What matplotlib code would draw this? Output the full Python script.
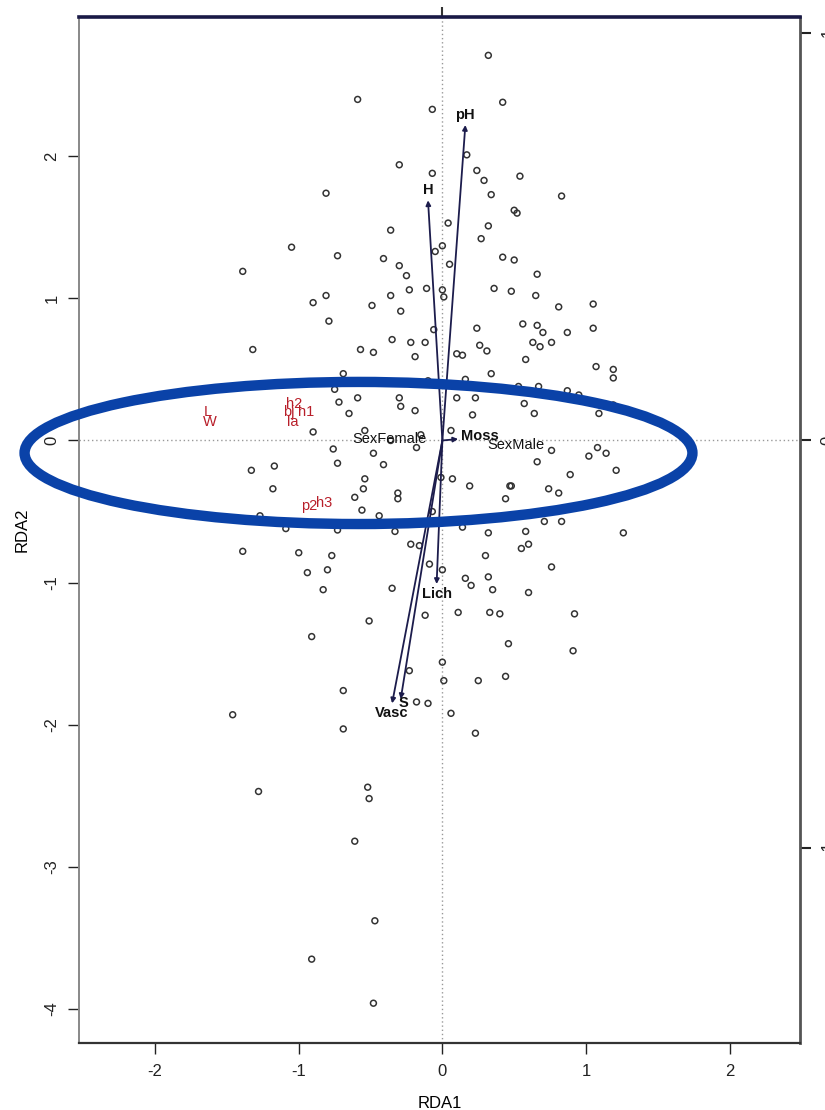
import matplotlib
matplotlib.use("Agg")
import matplotlib.pyplot as plt
from matplotlib.patches import Ellipse
from matplotlib import font_manager

# ---------------- data ----------------
site_x = [0.32, -0.59, -0.07, 0.42, 0.17, -0.30, -0.07, 0.24, 0.29, 0.54,
          -0.81, 0.34, 0.83, 0.50, 0.52, 0.04, 0.32, -0.36, 0.27, -1.05,
          0.00, -0.05, -0.73, -0.41, 0.42, 0.50, 0.05, -1.39, -0.30, -0.25,
          0.66, -0.11, 0.00, 0.01, -0.23, -0.36, -0.81, -0.90, 0.36, 0.48,
          0.65, 0.81, 1.05, -0.49, -0.29, -0.79, -0.06, 0.24, 0.56, 0.66,
          0.70, 0.87, 1.05, -0.35, -0.22, -0.12, -1.32, -0.57, -0.48, 0.26,
          0.31, 0.63, 0.68, 0.76, -0.19, 0.10, 0.14, 0.58, 1.07, 1.19,
          1.19, -0.69, 0.34, 0.16, -0.10, 0.67, 0.53, 0.87, 0.95, -0.30,
          0.10, 0.23, -0.59, -0.75,
          -0.72, -0.29, -0.65, -0.19, 0.21, 0.57, 0.64, 1.19, 1.09, -0.90,
          -0.54, -0.15, -0.36, 0.06, -0.18, -0.76, -0.48, 0.76, 1.08, 1.14,
          1.02, 0.66, -1.33, -1.17, -0.73, -0.41, 1.21, 0.89, -0.54, -0.01,
          0.07, 0.19, 0.47, 0.48, -1.18, -0.55, -0.31, -0.31, -0.61, 0.44,
          0.74, 0.81, -0.56, -0.44, -0.07, -1.27, -1.09, -0.73, -0.33, 0.14,
          0.32, 0.58, 0.71, 0.83, 1.26, -1.39, -1.00, -0.77, -0.22, -0.16,
          0.60, 0.55, 0.30, -0.94, -0.80, -0.09, 0.00, 0.76, -0.83, -0.35,
          0.16, 0.32, 0.20, 0.35, 0.60, -0.51, -0.12, 0.11, 0.33, 0.40,
          0.92, -0.91, 0.46, 0.91, 0.00, -0.23, 0.01, 0.25, 0.44, -0.69,
          -0.18, -0.10, -1.46, 0.06, -0.69, 0.23,
          -1.28, -0.52, -0.51, -0.61, -0.47, -0.91, -0.48]
site_y = [2.71, 2.40, 2.33, 2.38, 2.01, 1.94, 1.88, 1.90, 1.83, 1.86,
          1.74, 1.73, 1.72, 1.62, 1.60, 1.53, 1.51, 1.48, 1.42, 1.36,
          1.37, 1.33, 1.30, 1.28, 1.29, 1.27, 1.24, 1.19, 1.23, 1.16,
          1.17, 1.07, 1.06, 1.01, 1.06, 1.02, 1.02, 0.97, 1.07, 1.05,
          1.02, 0.94, 0.96, 0.95, 0.91, 0.84, 0.78, 0.79, 0.82, 0.81,
          0.76, 0.76, 0.79, 0.71, 0.69, 0.69, 0.64, 0.64, 0.62, 0.67,
          0.63, 0.69, 0.66, 0.69, 0.59, 0.61, 0.60, 0.57, 0.52, 0.50,
          0.44, 0.47, 0.47, 0.43, 0.42, 0.38, 0.38, 0.35, 0.32, 0.30,
          0.30, 0.30, 0.30, 0.36,
          0.27, 0.24, 0.19, 0.21, 0.18, 0.26, 0.19, 0.25, 0.19, 0.06,
          0.07, 0.04, 0.00, 0.07, -0.05, -0.06, -0.09, -0.07, -0.05, -0.09,
          -0.11, -0.15, -0.21, -0.18, -0.16, -0.17, -0.21, -0.24, -0.27, -0.26,
          -0.27, -0.32, -0.32, -0.32, -0.34, -0.34, -0.37, -0.41, -0.40, -0.41,
          -0.34, -0.37, -0.49, -0.53, -0.50, -0.53, -0.62, -0.63, -0.64, -0.61,
          -0.65, -0.64, -0.57, -0.57, -0.65, -0.78, -0.79, -0.81, -0.73, -0.74,
          -0.73, -0.76, -0.81, -0.93, -0.91, -0.87, -0.91, -0.89, -1.05, -1.04,
          -0.97, -0.96, -1.02, -1.05, -1.07, -1.27, -1.23, -1.21, -1.21, -1.22,
          -1.22, -1.38, -1.43, -1.48, -1.56, -1.62, -1.69, -1.69, -1.66, -1.76,
          -1.84, -1.85, -1.93, -1.92, -2.03, -2.06,
          -2.47, -2.44, -2.52, -2.82, -3.38, -3.65, -3.96]

arrow_names = ["pH", "H", "Moss", "Lich", "Vasc", "S"]
arrow_x = [0.16, -0.10, 0.11, -0.04, -0.35, -0.29]
arrow_y = [2.22, 1.69, 0.01, -1.01, -1.85, -1.82]
arrow_lab_x = [0.16, -0.10, 0.26, -0.04, -0.35, -0.27]
arrow_lab_y = [2.29, 1.76, 0.03, -1.08, -1.92, -1.85]

factor_names = ["SexFemale", "SexMale"]
factor_x = [-0.37, 0.51]
factor_y = [0.01, -0.03]

red_names = ["L", "W", "h2", "bj", "h1", "la", "p2", "h3"]
red_x = [-1.63, -1.62, -1.03, -1.07, -0.95, -1.04, -0.93, -0.82]
red_y = [0.20, 0.13, 0.26, 0.20, 0.20, 0.13, -0.46, -0.44]

x_ticks = [-2, -1, 0, 1, 2]
y_ticks = [-4, -3, -2, -1, 0, 1, 2]
right_ticks = [-1, 0, 1]
right_scale = 2.87  # RDA2 units per right-axis unit

# ---------------- fonts ----------------
avail = {f.name for f in font_manager.fontManager.ttflist}
fam = [f for f in ["Liberation Sans Narrow", "Liberation Sans", "DejaVu Sans"] if f in avail]
plt.rcParams['font.family'] = fam

# ---------------- figure ----------------
fig = plt.figure(figsize=(8.25, 11.10), dpi=100)
ax = fig.add_axes([79/825, 1 - 1043/1110, (800-79)/825, (1043-17)/1110])
ax.set_xlim(-2.53, 2.49)
ax.set_ylim(-4.24, 2.98)

# reference lines
ax.axhline(0, color="#999999", lw=1.0, ls=(0, (1, 2)), zorder=1)
ax.axvline(0, color="#999999", lw=1.0, ls=(0, (1, 2)), zorder=1)

# site points
ax.scatter(site_x, site_y, s=18, facecolors="none", edgecolors="#333333",
           linewidths=1.1, zorder=2)

# biplot arrows
arrow_col = "#1c1c4c"
for name, x, y, lx, ly in zip(arrow_names, arrow_x, arrow_y, arrow_lab_x, arrow_lab_y):
    ax.annotate("", xy=(x, y), xytext=(0, 0),
                arrowprops=dict(arrowstyle="-|>", color=arrow_col, lw=1.3,
                                mutation_scale=7, shrinkA=0, shrinkB=0), zorder=3)
    ax.text(lx, ly, name, ha="center", va="center", fontsize=10.5,
            fontweight="bold", color="#111111", zorder=4)

# factor centroids
for name, x, y in zip(factor_names, factor_x, factor_y):
    ax.text(x, y, name, ha="center", va="center", fontsize=10.5,
            color="#111111", zorder=4)

# red labels
for name, x, y in zip(red_names, red_x, red_y):
    ax.text(x, y, name, ha="center", va="center", fontsize=10.5,
            color="#b81f2a", zorder=4)

# highlight ellipse (annotation)
ell = Ellipse((-0.584, -0.088), 4.65, 1.0, fill=False, edgecolor="#0a42a8",
              lw=7.5, clip_on=False, zorder=6)
ax.add_patch(ell)

# axes styling
ax.set_xticks(x_ticks)
ax.set_xticklabels([str(t) for t in x_ticks])
ax.set_yticks(y_ticks)
ax.set_yticklabels([str(t) for t in y_ticks], rotation=90, va="center")
ax.tick_params(axis="both", direction="out", length=8, width=1.0,
               labelsize=12, pad=7, colors="#222222")
ax.tick_params(axis="y", pad=6)
ax.set_xlabel("RDA1", fontsize=12, labelpad=12)
ax.set_ylabel("RDA2", fontsize=12, labelpad=11)

ax.spines["left"].set_color("#888888")
ax.spines["left"].set_linewidth(1.4)
ax.spines["bottom"].set_color("#333333")
ax.spines["bottom"].set_linewidth(1.6)
ax.spines["top"].set_color("#1a1a46")
ax.spines["top"].set_linewidth(2.6)
ax.spines["right"].set_color("#555555")
ax.spines["right"].set_linewidth(2.0)

# top axis tick
top = ax.secondary_xaxis("top")
top.set_xticks([0])
top.set_xticklabels([""])
top.tick_params(direction="out", length=7, width=1.5, colors="#333333")
top.spines["top"].set_visible(False)

# right axis (species scale); labels fall at the figure edge as in the source
right = ax.secondary_yaxis("right", functions=(lambda v: v / right_scale,
                                               lambda v: v * right_scale))
right.set_yticks(right_ticks)
right.set_yticklabels([str(t) for t in right_ticks], rotation=90, va="center")
right.tick_params(direction="out", length=8, width=1.5, labelsize=12, pad=7,
                  colors="#222222")
right.spines["right"].set_visible(False)

fig.savefig("out.png", dpi=100)
